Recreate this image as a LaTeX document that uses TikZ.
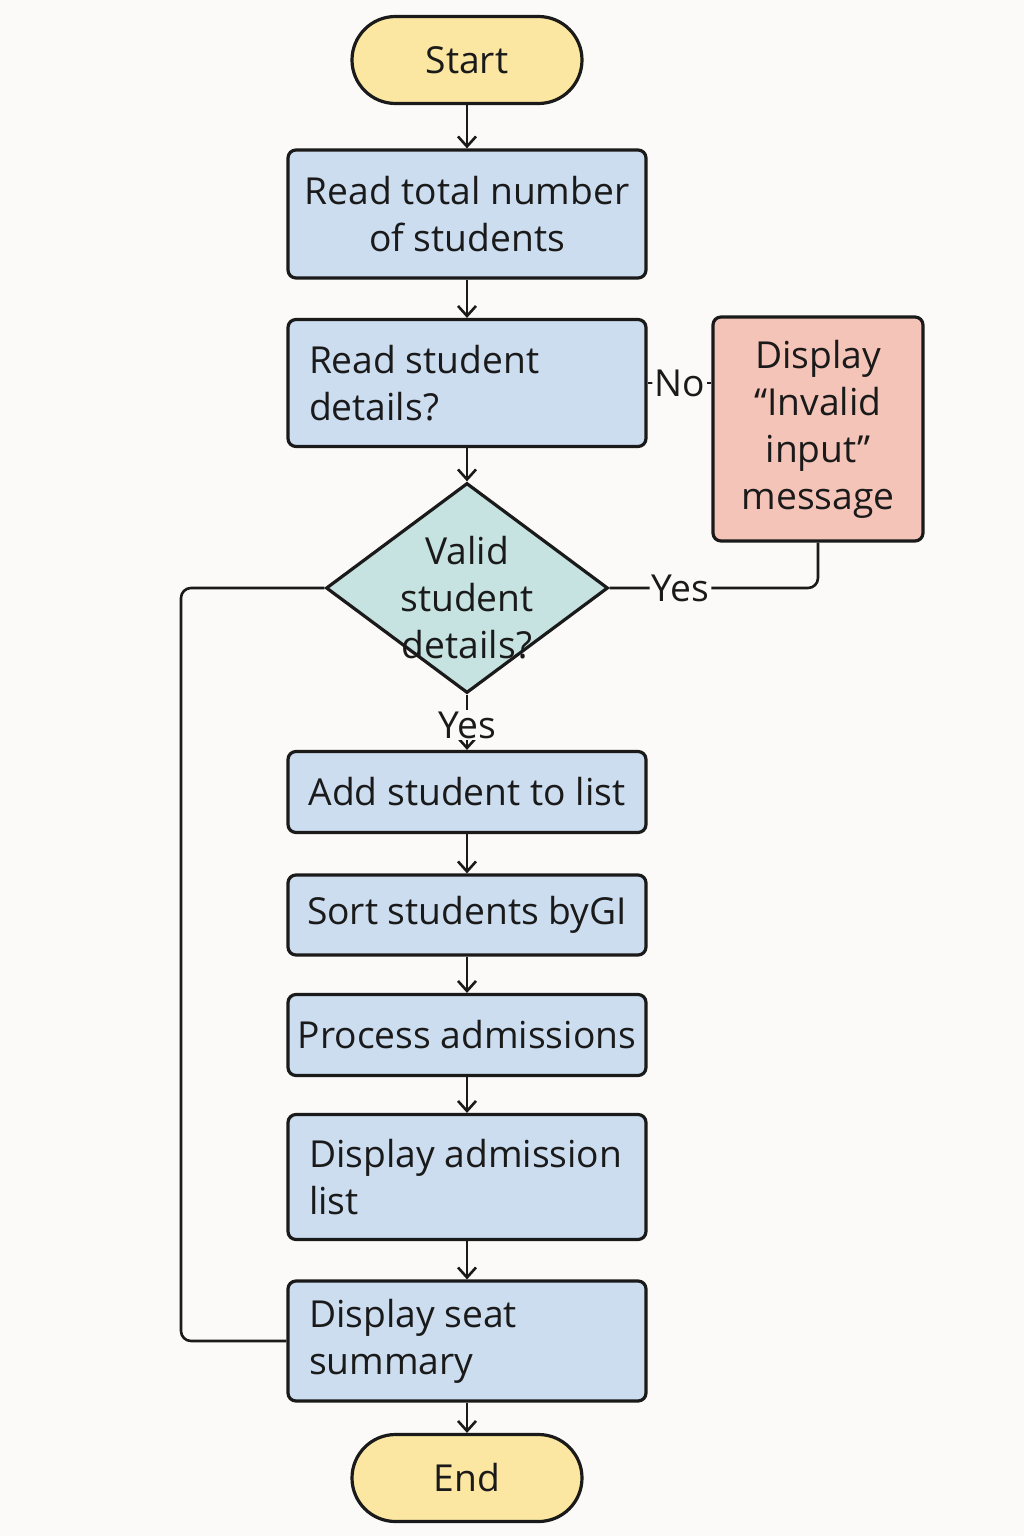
\documentclass[tikz,border=0pt]{standalone}
\usepackage{fontspec}
\setmainfont{Open Sans}
\usepackage{tikz}
\usetikzlibrary{positioning,shapes.geometric,arrows.meta,calc}
\definecolor{ink}     {HTML}{1A1A1A}
\definecolor{paper}   {HTML}{FCFAF8}
\definecolor{butter}  {HTML}{FBE7A1}
\definecolor{sky}     {HTML}{CCDDF0}
\definecolor{salmon}  {HTML}{F5C4B8}
\definecolor{seafoam} {HTML}{C6E3E1}
\tikzset{
  >={Straight Barb[length=5pt,width=9pt,line width=1.3pt]},
  every node/.style={font=\fontsize{18.6}{23.5}\selectfont, text=ink},
  % --- nodes
  term/.style   = {rounded corners=21.75pt, draw=ink, fill=butter, line width=1.6pt,
                   minimum width=115pt, minimum height=43.5pt},
  proc/.style   = {rounded corners=4pt, draw=ink, fill=sky, line width=1.6pt,
                   minimum width=179pt, align=center, inner sep=0pt},
  procl/.style  = {proc, align=flush left, text width=158pt},
  warn/.style   = {proc, fill=salmon, minimum width=105pt, minimum height=112pt},
  decide/.style = {diamond, draw=ink, fill=seafoam, line width=1.6pt, inner sep=0pt,
                   minimum width=141pt, minimum height=105pt},
  dtext/.style  = {align=center},
  lbl/.style    = {fill=paper, inner sep=1pt},
  % --- edges
  e/.style      = {->, line width=1.3pt, draw=ink},
  link/.style   = {line width=1.3pt, draw=ink, rounded corners=5pt},
}
\begin{document}
\begin{tikzpicture}[x=0.5pt,y=-0.5pt]
  \fill[paper] (0,0) rectangle (1024,1536);
  \node[term] (start) at (467,60) {Start};
  \node[proc, minimum height=64pt] (rtotal) at (467,214) {Read total number\\of students};
  \node[procl, minimum height=63.5pt] (rdet) at (467,383) {Read student\\details?};
  \node[warn] (invalid) at (818,429) {Display\\“Invalid\\input”\\message};
  \node[decide] (valid) at (467,588) {};
  \node[dtext] (validtxt) at (467,598) {Valid\\student\\details?};
  \node[proc, minimum height=40.5pt] (addst) at (467,792) {Add student to list};
  \node[proc, minimum height=40pt] (sortst) at (467,915) {Sort students byGI};
  \node[proc, minimum height=40.5pt] (procad) at (467,1035) {Process admissions};
  \node[procl, minimum height=62.5pt] (dadm) at (467,1177) {Display~admission\\list};
  \node[procl, minimum height=60pt] (dseat) at (467,1341) {Display seat\\summary};
  \node[term] (end) at (467,1478) {End};
  \coordinate (loopc) at (181,588);
  \foreach \i/\j in {start/rtotal,rtotal/rdet,rdet/valid,addst/sortst,sortst/procad,procad/dadm,dadm/dseat,dseat/end}
    \draw[e] (\i) -- (\j);
  \draw[e] (valid) -- node[lbl, pos=0.55] (yesdown) {Yes} (addst);
  \draw[link] (rdet.east) -- node[lbl] (nolbl) {No} (rdet.east -| invalid.west);
  \draw[link] (valid.east) -| node[lbl, pos=0.17] (yesright) {Yes} (invalid.south);
  \draw[link] (valid.west) -- (loopc) |- (dseat.west);
\end{tikzpicture}
\end{document}
